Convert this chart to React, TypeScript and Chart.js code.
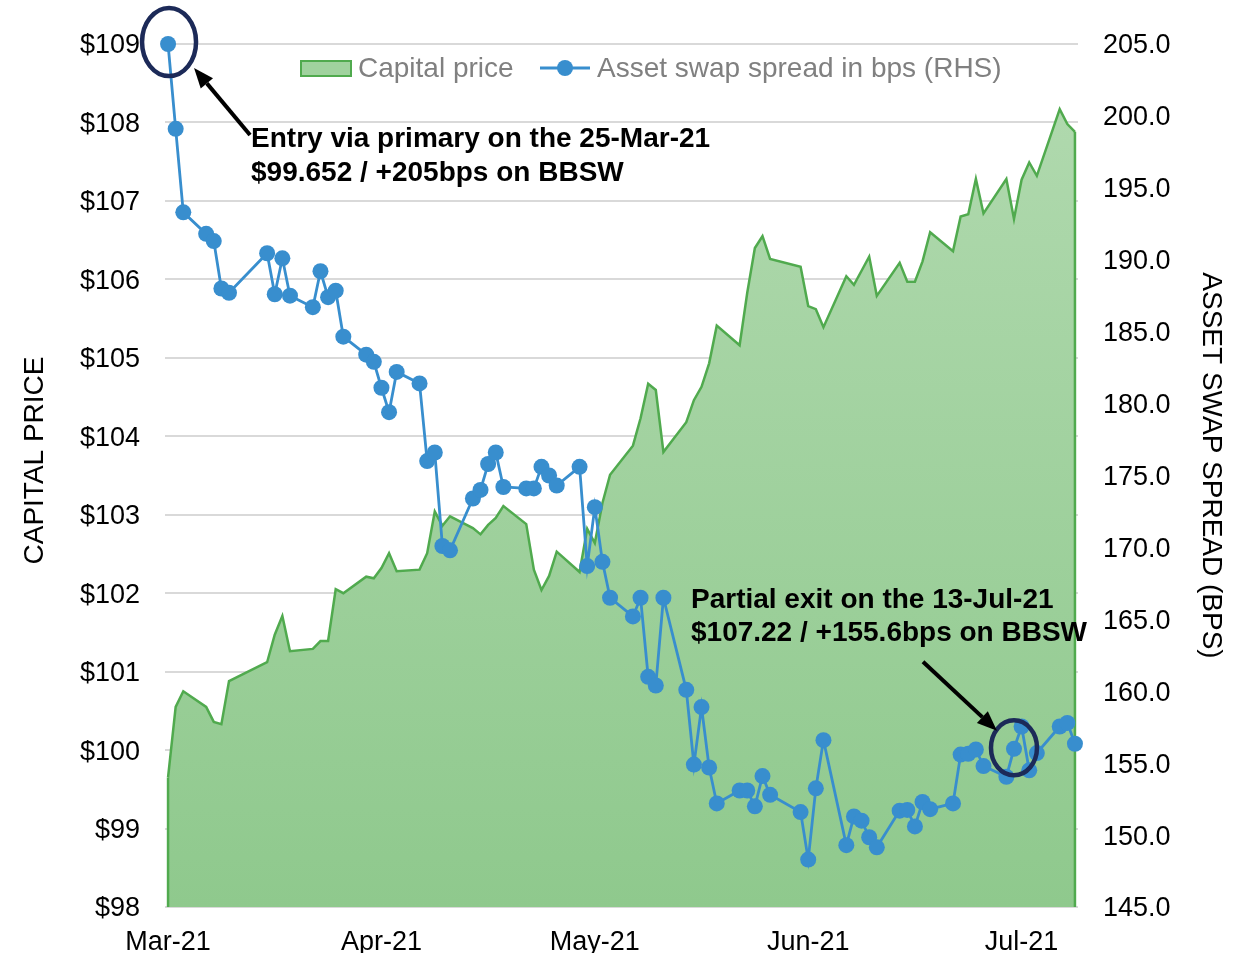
import React, { useEffect, useRef } from "react";
import { Chart, registerables } from "chart.js";

Chart.register(...registerables);

// Trading-day offsets from the first observation (24-Mar-21 = day 0)
const tradingDay = [
  0, 1, 2, 5, 6, 7, 8, 13, 14, 15, 16, 19, 20, 21, 22, 23, 26, 27, 28, 29, 30,
  33, 34, 35, 36, 37, 40, 41, 42, 43, 44, 47, 48, 49, 50, 51, 54, 55, 56, 57, 58,
  61, 62, 63, 64, 65, 68, 69, 70, 71, 72, 75, 76, 77, 78, 79, 83, 84, 85, 86,
  89, 90, 91, 92, 93, 96, 97, 98, 99, 100, 103, 104, 105, 106, 107,
  110, 111, 112, 113, 114, 117, 118, 119,
];

const capitalPrice = [
  99.652, 100.55, 100.75,
  100.55, 100.36, 100.33, 100.88,
  101.12, 101.47, 101.71, 101.26,
  101.29, 101.39, 101.39, 102.05, 102.0,
  102.21, 102.19, 102.32, 102.51, 102.28,
  102.3, 102.51, 103.04, 102.86, 102.98,
  102.83, 102.75, 102.87, 102.96, 103.11,
  102.88, 102.3, 102.04, 102.22, 102.53,
  102.27, 102.82, 102.64, 103.15, 103.51,
  103.88, 104.23, 104.67, 104.59, 103.8,
  104.18, 104.46, 104.63, 104.93, 105.41,
  105.16, 105.83, 106.4, 106.55, 106.26,
  106.16, 105.66, 105.62, 105.39,
  106.04, 105.93, 106.11, 106.29, 105.79,
  106.21, 105.97, 105.97, 106.23, 106.6,
  106.36, 106.8, 106.83, 107.28, 106.84,
  107.28, 106.77, 107.27, 107.49, 107.32,
  108.17, 107.98, 107.88,
];

const assetSwapSpread = [
  205.0, 199.1, 193.3,
  191.8, 191.3, 188.0, 187.7,
  190.45, 187.6, 190.1, 187.5,
  186.7, 189.2, 187.4, 187.85, 184.65,
  183.4, 182.9, 181.1, 179.4, 182.2,
  181.4, 176.0, 176.6, 170.1, 169.8,
  173.4, 174.0, 175.8, 176.6, 174.2,
  174.1, 174.1, 175.6, 175.0, 174.3,
  175.6, 168.7, 172.8, 169.0, 166.5,
  165.2, 166.5, 161.0, 160.4, 166.5,
  160.1, 154.9, 158.9, 154.7, 152.2,
  153.1, 153.1, 152.0, 154.1, 152.8,
  151.6, 148.3, 153.25, 156.6,
  149.3, 151.3, 151.0, 149.85, 149.15,
  151.7, 151.75, 150.6, 152.3, 151.8,
  152.2, 155.6, 155.65, 155.95, 154.8,
  154.05, 156.0, 157.55, 154.5, 155.7,
  157.55, 157.8, 156.35,
];

const monthTickDays = [0, 28, 56, 84, 112];
const monthLabels = ["Mar-21", "Apr-21", "May-21", "Jun-21", "Jul-21"];

const leftTitle = "CAPITAL PRICE";
const rightTitle = "ASSET SWAP SPREAD (BPS)";
const entryText = ["Entry via primary on the 25-Mar-21", "$99.652 / +205bps on BBSW"];
const exitText = ["Partial exit on the 13-Jul-21", "$107.22 / +155.6bps on BBSW"];
const entryIndex = 0;
const exitIndex = 76;

const FONT_FAMILY = '"Liberation Sans", Arial, Helvetica, sans-serif';
const BLUE = "rgb(56,142,206)";
const GREEN_LINE = "rgb(80,170,78)";
const NAVY = "#1c2a58";

function drawArrow(ctx: CanvasRenderingContext2D, x1: number, y1: number, x2: number, y2: number) {
  const ang = Math.atan2(y2 - y1, x2 - x1);
  const headLen = 20;
  const headW = 8;
  const bx = x2 - headLen * Math.cos(ang);
  const by = y2 - headLen * Math.sin(ang);
  ctx.save();
  ctx.strokeStyle = "#000";
  ctx.fillStyle = "#000";
  ctx.lineWidth = 4;
  ctx.beginPath();
  ctx.moveTo(x1, y1);
  ctx.lineTo(bx, by);
  ctx.stroke();
  ctx.beginPath();
  ctx.moveTo(x2, y2);
  ctx.lineTo(bx + headW * Math.sin(ang), by - headW * Math.cos(ang));
  ctx.lineTo(bx - headW * Math.sin(ang), by + headW * Math.cos(ang));
  ctx.closePath();
  ctx.fill();
  ctx.restore();
}

const overlayPlugin = {
  id: "overlay",
  afterDatasetDraw(chart: any, args: any) {
    if (args.index !== 1) return;
    const { ctx, scales, chartArea } = chart;
    const xs = scales.x;
    const yl = scales.yPrice;
    const n = tradingDay.length;
    ctx.save();
    ctx.strokeStyle = GREEN_LINE;
    ctx.lineWidth = 2.5;
    ctx.beginPath();
    ctx.moveTo(xs.getPixelForValue(tradingDay[0]), yl.getPixelForValue(capitalPrice[0]));
    ctx.lineTo(xs.getPixelForValue(tradingDay[0]), chartArea.bottom);
    ctx.moveTo(xs.getPixelForValue(tradingDay[n - 1]), yl.getPixelForValue(capitalPrice[n - 1]));
    ctx.lineTo(xs.getPixelForValue(tradingDay[n - 1]), chartArea.bottom);
    ctx.stroke();
    ctx.restore();
  },
  afterDraw(chart: any) {
    const { ctx, scales, chartArea } = chart;
    const xs = scales.x;
    const yr = scales.ySpread;

    // Axis titles
    ctx.save();
    ctx.font = `28px ${FONT_FAMILY}`;
    ctx.fillStyle = "#000";
    ctx.textAlign = "center";
    ctx.textBaseline = "middle";
    ctx.translate(35, (chartArea.top + chartArea.bottom) / 2 - 15);
    ctx.rotate(-Math.PI / 2);
    ctx.fillText(leftTitle, 0, 0);
    ctx.restore();

    ctx.save();
    ctx.font = `28px ${FONT_FAMILY}`;
    ctx.fillStyle = "#000";
    ctx.textAlign = "center";
    ctx.textBaseline = "middle";
    ctx.translate(1211, (chartArea.top + chartArea.bottom) / 2 - 10);
    ctx.rotate(Math.PI / 2);
    ctx.fillText(rightTitle, 0, 0);
    ctx.restore();

    // Legend
    ctx.save();
    ctx.font = `28px ${FONT_FAMILY}`;
    ctx.textBaseline = "middle";
    ctx.textAlign = "left";
    const ly = 68;
    ctx.fillStyle = "rgb(160,210,158)";
    ctx.fillRect(301, ly - 7, 50, 15);
    ctx.strokeStyle = GREEN_LINE;
    ctx.lineWidth = 2;
    ctx.strokeRect(301, ly - 7, 50, 15);
    ctx.fillStyle = "#808080";
    ctx.fillText(chart.data.datasets[1].label, 358, ly + 1);
    ctx.strokeStyle = BLUE;
    ctx.lineWidth = 3;
    ctx.beginPath();
    ctx.moveTo(540, ly);
    ctx.lineTo(590, ly);
    ctx.stroke();
    ctx.fillStyle = BLUE;
    ctx.beginPath();
    ctx.arc(565, ly, 8, 0, Math.PI * 2);
    ctx.fill();
    ctx.fillStyle = "#808080";
    ctx.fillText(chart.data.datasets[0].label, 597, ly + 1);
    ctx.restore();

    // Entry annotation
    const c1x = xs.getPixelForValue(tradingDay[entryIndex]) + 1;
    const c1y = yr.getPixelForValue(assetSwapSpread[entryIndex]) - 2;
    ctx.save();
    ctx.strokeStyle = NAVY;
    ctx.lineWidth = 4.5;
    ctx.beginPath();
    ctx.ellipse(c1x, c1y, 27, 34, 0, 0, Math.PI * 2);
    ctx.stroke();
    ctx.restore();
    drawArrow(ctx, c1x + 81, c1y + 93, c1x + 25, c1y + 26);

    ctx.save();
    ctx.font = `bold 28px ${FONT_FAMILY}`;
    ctx.fillStyle = "#000";
    ctx.textBaseline = "middle";
    ctx.textAlign = "left";
    ctx.fillText(entryText[0], c1x + 82, c1y + 97);
    ctx.fillText(entryText[1], c1x + 82, c1y + 131);
    ctx.restore();

    // Exit annotation
    const c2x = xs.getPixelForValue(tradingDay[exitIndex]);
    const c2y = yr.getPixelForValue(assetSwapSpread[exitIndex]) - 1;
    ctx.save();
    ctx.strokeStyle = NAVY;
    ctx.lineWidth = 4.5;
    ctx.beginPath();
    ctx.ellipse(c2x, c2y, 23, 27.5, 0, 0, Math.PI * 2);
    ctx.stroke();
    ctx.restore();
    drawArrow(ctx, c2x - 91, c2y - 86, c2x - 17, c2y - 17);

    ctx.save();
    ctx.font = `bold 28px ${FONT_FAMILY}`;
    ctx.fillStyle = "#000";
    ctx.textBaseline = "middle";
    ctx.textAlign = "left";
    ctx.fillText(exitText[0], c2x - 323, c2y - 148);
    ctx.fillText(exitText[1], c2x - 323, c2y - 115);
    ctx.restore();
  },
};

export default function App() {
  const ref = useRef<HTMLCanvasElement>(null);

  useEffect(() => {
    document.body.style.margin = "0";
    const canvas = ref.current;
    if (!canvas) return;
    const font = { family: FONT_FAMILY, size: 27 };
    const priceData = tradingDay.map((d, i) => ({ x: d, y: capitalPrice[i] }));
    const spreadData = tradingDay.map((d, i) => ({ x: d, y: assetSwapSpread[i] }));

    const chart = new Chart(canvas, {
      type: "line",
      data: {
        datasets: [
          {
            label: "Asset swap spread in bps (RHS)",
            data: spreadData,
            yAxisID: "ySpread",
            borderColor: BLUE,
            backgroundColor: BLUE,
            borderWidth: 2.8,
            pointRadius: 8,
            pointBackgroundColor: BLUE,
            pointBorderWidth: 0,
            fill: false,
            tension: 0,
            order: 0,
            clip: false,
          },
          {
            label: "Capital price",
            data: priceData,
            yAxisID: "yPrice",
            borderColor: GREEN_LINE,
            borderWidth: 2.5,
            pointRadius: 0,
            tension: 0,
            fill: "start",
            order: 1,
            backgroundColor: (c: any) => {
              const { chart: ch } = c;
              const area = ch.chartArea;
              if (!area) return "rgb(155,207,153)";
              const g = ch.ctx.createLinearGradient(0, area.top, 0, area.bottom);
              g.addColorStop(0, "rgb(178,218,176)");
              g.addColorStop(1, "rgb(143,201,141)");
              return g;
            },
          },
        ],
      },
      options: {
        animation: false,
        responsive: false,
        maintainAspectRatio: false,
        layout: { padding: { top: 44, left: 0, right: 0, bottom: 0 } },
        plugins: { legend: { display: false }, tooltip: { enabled: false } },
        scales: {
          x: {
            type: "linear",
            min: -0.4,
            max: 119.4,
            afterBuildTicks: (s: any) => {
              s.ticks = monthTickDays.map((v) => ({ value: v }));
            },
            ticks: {
              callback: (_v: any, i: number) => monthLabels[i],
              maxRotation: 0,
              autoSkip: false,
              padding: 19,
              color: "#000",
              font,
            },
            grid: { display: false, drawTicks: false },
            border: { display: false },
            afterFit: (s: any) => {
              s.height = 46;
            },
          },
          yPrice: {
            type: "linear",
            position: "left",
            min: 98,
            max: 109,
            ticks: {
              stepSize: 1,
              callback: (v: any) => "$" + v,
              padding: 25,
              labelOffset: 2,
              color: "#000",
              font,
            },
            grid: { color: "#d9d9d9", lineWidth: 2, drawTicks: false },
            border: { display: false },
            afterFit: (s: any) => {
              s.width = 165;
            },
          },
          ySpread: {
            type: "linear",
            position: "right",
            min: 145,
            max: 205,
            ticks: {
              stepSize: 5,
              callback: (v: any) => Number(v).toFixed(1),
              padding: 25,
              labelOffset: 2,
              color: "#000",
              font,
            },
            grid: { display: false, drawTicks: false },
            border: { display: false },
            afterFit: (s: any) => {
              s.width = 168;
            },
          },
        },
      } as any,
      plugins: [overlayPlugin],
    });
    return () => chart.destroy();
  }, []);

  return (
    <div style={{ width: 1246, height: 953 }}>
      <canvas ref={ref} width={1246} height={953} style={{ display: "block" }} />
    </div>
  );
}
